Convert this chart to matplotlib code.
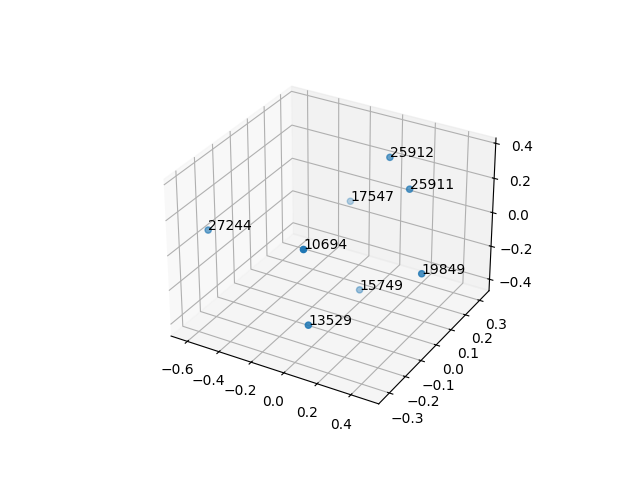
import matplotlib
matplotlib.use("Agg")
import matplotlib.pyplot as plt

labels = [25912, 25911, 17547, 27244, 10694, 19849, 15749, 13529]
xs = [0.118, 0.28, -0.29, -0.648, 0.09, 0.505, -0.03, 0.105]
ys = [0.16, 0.115, 0.334, -0.188, -0.331, -0.045, 0.13, -0.321]
zs = [0.365, 0.26, -0.13, 0.02, 0.23, -0.03, -0.43, -0.20]

fig = plt.figure(figsize=(6.4, 4.8), dpi=100)
ax = fig.add_subplot(projection='3d')
ax.scatter(xs, ys, zs)
for x, y, z, t in zip(xs, ys, zs, labels):
    ax.text(x, y, z, str(t))
ax.set_xlim(-0.704, 0.562)
ax.set_ylim(-0.365, 0.368)
ax.set_zlim(-0.47, 0.43)
fig.savefig("out.png", dpi=100)
